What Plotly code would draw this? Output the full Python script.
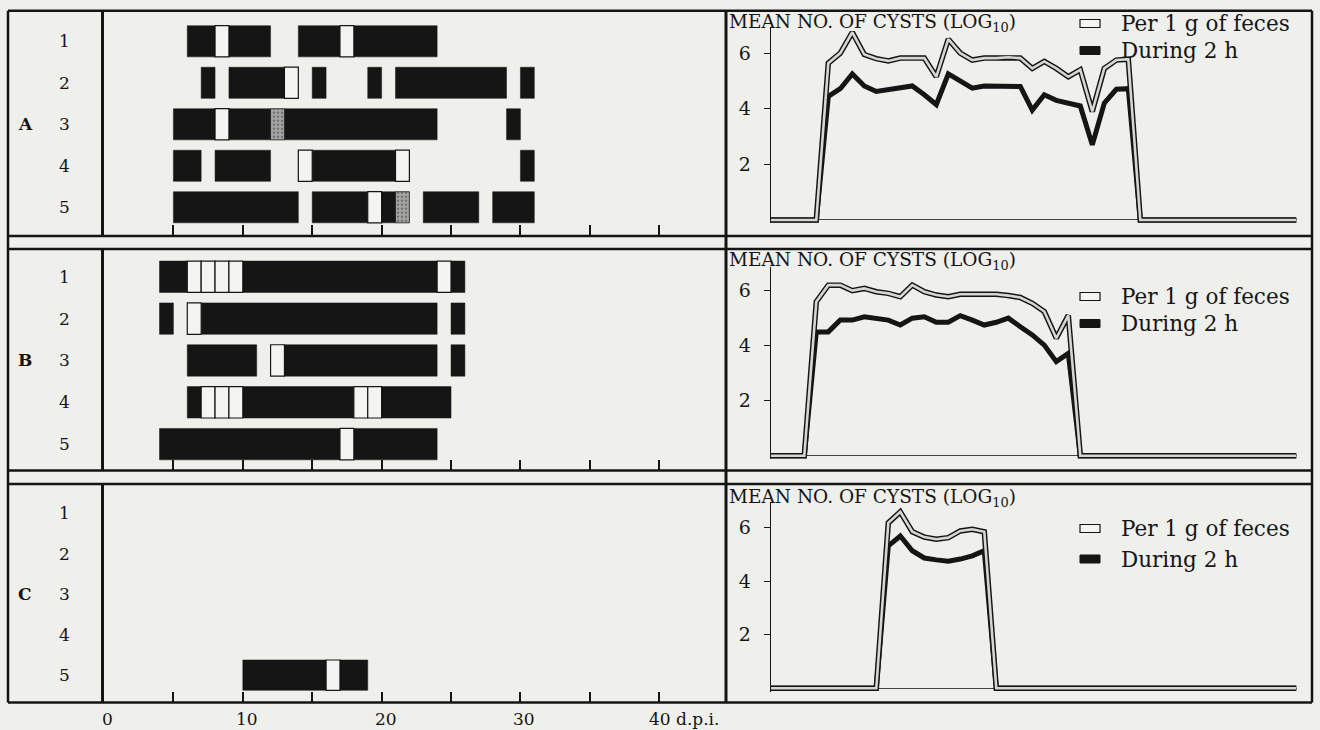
import plotly.graph_objects as go

W, H = 1320, 730
BG = "#efefeb"
INK = "#151515"
FONT = "DejaVu Serif"

# ---------------- Left panels: individual animals (rows) vs days post infection ----------------
# kind: 'b' = cysts found (black), 'w' = no cysts (white), 'g' = stippled (grey)
A_row = [1, 1, 1, 1, 1, 1,
         2, 2, 2, 2, 2, 2, 2,
         3, 3, 3, 3, 3, 3,
         4, 4, 4, 4, 4, 4,
         5, 5, 5, 5, 5, 5, 5]
A_start = [6, 8, 9, 14, 17, 18,
           7, 9, 13, 15, 19, 21, 30,
           5, 8, 9, 12, 13, 29,
           5, 8, 14, 15, 21, 30,
           5, 15, 19, 20, 21, 23, 28]
A_end = [8, 9, 12, 17, 18, 24,
         8, 13, 14, 16, 20, 29, 31,
         8, 9, 12, 13, 24, 30,
         7, 12, 15, 21, 22, 31,
         14, 19, 20, 21, 22, 27, 31]
A_kind = ['b', 'w', 'b', 'b', 'w', 'b',
          'b', 'b', 'w', 'b', 'b', 'b', 'b',
          'b', 'w', 'b', 'g', 'b', 'b',
          'b', 'b', 'w', 'b', 'w', 'b',
          'b', 'b', 'w', 'b', 'g', 'b', 'b']

B_row = [1, 1, 1, 1, 1, 1, 1, 1,
         2, 2, 2, 2,
         3, 3, 3, 3,
         4, 4, 4, 4, 4, 4, 4, 4,
         5, 5, 5]
B_start = [4, 6, 7, 8, 9, 10, 24, 25,
           4, 6, 7, 25,
           6, 12, 13, 25,
           6, 7, 8, 9, 10, 18, 19, 20,
           4, 17, 18]
B_end = [6, 7, 8, 9, 10, 24, 25, 26,
         5, 7, 24, 26,
         11, 13, 24, 26,
         7, 8, 9, 10, 18, 19, 20, 25,
         17, 18, 24]
B_kind = ['b', 'w', 'w', 'w', 'w', 'b', 'w', 'b',
          'b', 'w', 'b', 'b',
          'b', 'w', 'b', 'b',
          'b', 'w', 'w', 'w', 'b', 'w', 'w', 'b',
          'b', 'w', 'b']

C_row = [5, 5, 5]
C_start = [10, 16, 17]
C_end = [16, 17, 19]
C_kind = ['b', 'w', 'b']

row_labels = ['1', '2', '3', '4', '5']
day_ticks = [5, 10, 15, 20, 25, 30, 35, 40]
day_labels = ['0', '10', '20', '30']
day_label_pos = [0, 10, 20, 30]
last_label = '40 d.p.i.'
last_label_pos = 40

# ---------------- Right panels: mean number of cysts (log10) per day ----------------
A_days = [0, 4] + list(range(5, 31)) + [31, 44]
A_per_g = [0, 0,
           5.64, 6.0, 6.75, 5.95, 5.8, 5.72, 5.82, 5.82, 5.82, 5.15, 6.5, 6.0, 5.75,
           5.82, 5.82, 5.85, 5.82, 5.45, 5.7, 5.45, 5.15, 5.4, 3.9, 5.45, 5.75, 5.78,
           0, 0]
A_2h = [0, 0,
        4.44, 4.72, 5.25, 4.82, 4.62, 4.7, 4.74, 4.82, 4.5, 4.15, 5.25, 4.98, 4.74,
        4.82, 4.82, 4.82, 4.8, 3.95, 4.5, 4.3, 4.2, 4.1, 2.7, 4.2, 4.7, 4.72,
        0, 0]

B_days = [0, 3] + list(range(4, 26)) + [26, 44]
B_per_g = [0, 0,
           5.6, 6.2, 6.2, 6.0, 6.08, 5.96, 5.9, 5.78, 6.2, 5.96, 5.84,
           5.78, 5.87, 5.87, 5.87, 5.87, 5.82, 5.75, 5.54, 5.24, 4.27, 5.1,
           0, 0]
B_2h = [0, 0,
        4.5, 4.5, 4.93, 4.93, 5.05, 5.0, 4.93, 4.75, 5.0, 5.05, 4.85,
        4.85, 5.09, 4.93, 4.75, 4.85, 5.0, 4.69, 4.39, 4.02, 3.42, 3.72,
        0, 0]

C_days = [0, 9] + list(range(10, 19)) + [19, 44]
C_per_g = [0, 0, 6.17, 6.58, 5.84, 5.64, 5.56, 5.62, 5.87, 5.93, 5.84, 0, 0]
C_2h = [0, 0, 5.31, 5.68, 5.13, 4.86, 4.79, 4.74, 4.82, 4.94, 5.13, 0, 0]

count_ticks = [2, 4, 6]
y_title = "MEAN NO. OF CYSTS (LOG<sub>10</sub>)"
legend_names = ["Per 1 g of feces", "During 2 h"]
group_letters = ["A", "B", "C"]


def fx(px):
    return px / W


def fy(py):
    return 1 - py / H


fig = go.Figure()

KIND_STYLE = {
    'b': dict(color=INK, line=dict(color=INK, width=0.5)),
    'w': dict(color="#f4f4f2", line=dict(color=INK, width=1.2)),
    'g': dict(color="#9a9a9a", line=dict(color=INK, width=0.8),
              pattern=dict(shape=".", fgcolor="#3a3a3a", bgcolor="#a8a8a8", size=4, solidity=0.35)),
}


def add_timeline(rows, starts, ends, kinds, xa, ya):
    for kind in ['b', 'w', 'g']:
        idx = [i for i, k in enumerate(kinds) if k == kind]
        if not idx:
            continue
        fig.add_trace(go.Bar(
            orientation='h',
            y=[rows[i] for i in idx],
            base=[starts[i] for i in idx],
            x=[ends[i] - starts[i] for i in idx],
            width=0.75,
            marker=KIND_STYLE[kind],
            xaxis=xa, yaxis=ya, showlegend=False, hoverinfo='skip'))


def add_counts(days, per_g, two_h, xa, ya):
    fig.add_trace(go.Scatter(x=days, y=two_h, mode='lines', name=legend_names[1],
                             line=dict(color=INK, width=5), xaxis=xa, yaxis=ya,
                             showlegend=False, hoverinfo='skip'))
    fig.add_trace(go.Scatter(x=days, y=per_g, mode='lines', name=legend_names[0],
                             line=dict(color=INK, width=5.5), xaxis=xa, yaxis=ya,
                             showlegend=False, hoverinfo='skip'))
    fig.add_trace(go.Scatter(x=days, y=per_g, mode='lines', name=legend_names[0],
                             line=dict(color="#d6d6d2", width=2.6), xaxis=xa, yaxis=ya,
                             showlegend=False, hoverinfo='skip'))


add_timeline(A_row, A_start, A_end, A_kind, 'x', 'y')
add_timeline(B_row, B_start, B_end, B_kind, 'x2', 'y2')
add_timeline(C_row, C_start, C_end, C_kind, 'x3', 'y3')
add_counts(A_days, A_per_g, A_2h, 'x4', 'y4')
add_counts(B_days, B_per_g, B_2h, 'x5', 'y5')
add_counts(C_days, C_per_g, C_2h, 'x6', 'y6')

# panel geometry (pixels)
left_panels = [  # (top, bottom, yrange)
    (10.7, 235.5, [5.68, 0.263]),
    (249.0, 470.5, [5.63, 0.337]),
    (484.0, 702.5, [5.676, 0.275]),
]
right_panels = [  # (axis top, axis bottom, yrange)
    (26.7, 223.3, [-0.12, 6.95]),
    (266.7, 459.0, [-0.12, 6.87]),
    (501.7, 691.5, [-0.12, 6.96]),
]

layout = dict(
    width=W, height=H, margin=dict(l=0, r=0, t=0, b=0),
    paper_bgcolor=BG, plot_bgcolor="rgba(0,0,0,0)",
    barmode='overlay', showlegend=False,
    font=dict(family=FONT, color=INK, size=16),
)

for i, (top, bot, yr) in enumerate(left_panels):
    n = '' if i == 0 else str(i + 1)
    layout['xaxis' + n] = dict(
        domain=[fx(104), fx(726)], range=[0, 44.81], anchor='y' + n,
        tickvals=day_ticks, ticks='inside', ticklen=11, tickwidth=1.5, tickcolor=INK,
        showticklabels=False, showgrid=False, zeroline=False, showline=False, fixedrange=True)
    layout['yaxis' + n] = dict(
        domain=[fy(bot), fy(top)], range=yr, anchor='x' + n,
        tickvals=[1, 2, 3, 4, 5], ticktext=row_labels, ticks='',
        ticklabelstandoff=28, tickfont=dict(family=FONT, size=17, color=INK),
        showline=True, linewidth=2.5, linecolor=INK, showgrid=False, zeroline=False)

for i, (top, bot, yr) in enumerate(right_panels):
    n = str(i + 4)
    layout['xaxis' + n] = dict(
        domain=[fx(770.7), fx(1297)], range=[0.2, 44.06], anchor='y' + n,
        visible=False, showgrid=False, zeroline=False)
    layout['yaxis' + n] = dict(
        domain=[fy(bot), fy(top)], range=yr, anchor='x' + n,
        tickvals=count_ticks, ticks='outside', ticklen=6, tickwidth=1.3, tickcolor=INK,
        tickfont=dict(family=FONT, size=19, color=INK), ticklabelstandoff=9,
        showline=True, linewidth=1.3, linecolor=INK, showgrid=False,
        zeroline=True, zerolinecolor="#444", zerolinewidth=1)

fig.update_layout(**layout)

# ---- frame rules ----
shapes = []
def hline(py, x0=8, x1=1312, w=2.5):
    shapes.append(dict(type='line', xref='paper', yref='paper', x0=fx(x0), x1=fx(x1),
                       y0=fy(py), y1=fy(py), line=dict(color=INK, width=w)))
def vline(px, y0=10.7, y1=702.5, w=2.5):
    shapes.append(dict(type='line', xref='paper', yref='paper', x0=fx(px), x1=fx(px),
                       y0=fy(y0), y1=fy(y1), line=dict(color=INK, width=w)))

for py in [10.7, 236.0, 249.0, 470.5, 484.0, 702.5]:
    hline(py)
vline(8)
vline(726, w=3)
vline(1312)

# ---- legend keys ----
legend_rows = [  # (open key y center, filled key y center)
    (23.5, 50.5),
    (296.5, 323.5),
    (528.5, 559.0),
]
annotations = []
for (yo, yb) in legend_rows:
    shapes.append(dict(type='rect', xref='paper', yref='paper',
                       x0=fx(1080), x1=fx(1100), y0=fy(yo + 4), y1=fy(yo - 4),
                       fillcolor="#f4f4f2", line=dict(color=INK, width=1.2)))
    shapes.append(dict(type='rect', xref='paper', yref='paper',
                       x0=fx(1080), x1=fx(1100), y0=fy(yb + 4), y1=fy(yb - 4),
                       fillcolor=INK, line=dict(color=INK, width=1)))
    annotations.append(dict(xref='paper', yref='paper', x=fx(1119), y=fy(yo), text=legend_names[0],
                            xanchor='left', yanchor='middle', showarrow=False,
                            font=dict(family=FONT, size=21.5, color=INK)))
    annotations.append(dict(xref='paper', yref='paper', x=fx(1119), y=fy(yb), text=legend_names[1],
                            xanchor='left', yanchor='middle', showarrow=False,
                            font=dict(family=FONT, size=21.5, color=INK)))

# ---- y titles of count panels ----
for ty in [23.0, 261.5, 498.0]:
    annotations.append(dict(xref='paper', yref='paper', x=fx(727), y=fy(ty), text=y_title,
                            xanchor='left', yanchor='middle', showarrow=False,
                            font=dict(family=FONT, size=18.5, color=INK)))

# ---- group letters ----
for i, letter in enumerate(group_letters):
    n = '' if i == 0 else str(i + 1)
    annotations.append(dict(xref='paper', yref='y' + n, x=fx(25), y=3, text='<b>%s</b>' % letter,
                            xanchor='center', yanchor='middle', showarrow=False,
                            font=dict(family=FONT, size=17, color=INK)))

# ---- day axis labels under panel C ----
for v, t in zip(day_label_pos, day_labels):
    annotations.append(dict(xref='x3', yref='paper', x=v, y=fy(719), text=t,
                            xanchor='center', yanchor='middle', xshift=4, showarrow=False,
                            font=dict(family=FONT, size=17, color=INK)))
annotations.append(dict(xref='x3', yref='paper', x=last_label_pos, y=fy(719), text=last_label,
                        xanchor='left', yanchor='middle', xshift=-12, showarrow=False,
                        font=dict(family=FONT, size=17, color=INK)))

fig.update_layout(shapes=shapes, annotations=annotations)

# the page body has a default 8px margin; remove it so the figure fills the window
page_style = ("document.body.style.margin='0';"
              "document.body.style.background='%s';" % BG)
fig.write_html("out.html", post_script=page_style, config={'displayModeBar': False})
